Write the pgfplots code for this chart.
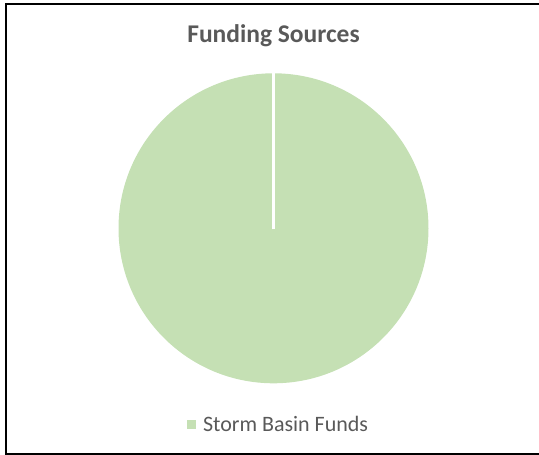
\documentclass[border=0pt]{standalone}
\usepackage{pgfplots}
\usepackage{pgfplotstable}
\pgfplotsset{compat=1.18}
\usepackage{fontspec}
\setmainfont{Carlito}
\definecolor{piegreen}{HTML}{C5E0B4}
\definecolor{textgray}{HTML}{595959}
\pgfplotstableread[col sep=comma]{
label,value
Storm Basin Funds,100
}\fundtable
\begin{document}
\begin{tikzpicture}
\begin{axis}[
  x=1pt, y=1pt,
  xmin=0, xmax=539, ymin=0, ymax=455,
  hide axis,
  clip=false,
  legend style={at={(axis cs:187,30)}, anchor=west, draw=none, fill=none,
    inner sep=0pt, outer sep=0pt,
    font=\fontsize{22}{26}\selectfont, text=textgray,
    nodes={inner sep=0pt}, column sep=7pt},
  legend cell align=left,
]
\pgfplotstablegetelem{0}{value}\of\fundtable
\pgfmathsetmacro{\total}{\pgfplotsretval}
\pgfmathsetmacro{\sweep}{360*(\pgfplotsretval/\total)}
\fill[piegreen] (axis cs:273.5,226.7) -- ++(90:155pt)
   arc[start angle=90, end angle={90-\sweep}, radius=155pt] -- cycle;
\draw[white, line width=3pt] (axis cs:273.5,225.5) -- ++(90:157pt);
\addlegendimage{fill=piegreen, draw=none,
  legend image code/.code={\fill[piegreen] (0pt,-4.5pt) rectangle (9pt,4.5pt);}}
\addlegendentry{Storm Basin Funds}
\node[anchor=base, text=textgray, font=\fontsize{25.5}{30}\selectfont\bfseries]
  at (axis cs:273.5,412) {Funding Sources};
\draw[black, line width=1.6pt] (axis cs:560,451.2) -- (axis cs:5.8,451.2) -- (axis cs:5.8,1.2) -- (axis cs:560,1.2);
\end{axis}
\pgfresetboundingbox
\path[use as bounding box] (0,0) rectangle (539pt,455pt);
\end{tikzpicture}
\end{document}
